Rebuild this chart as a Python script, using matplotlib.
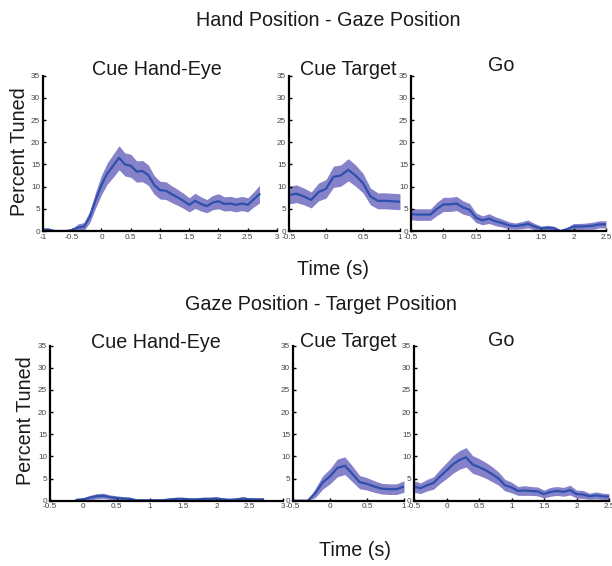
import numpy as np
import matplotlib
matplotlib.use("Agg")
import matplotlib.pyplot as plt

plt.rcParams['font.family'] = ['Liberation Sans', 'DejaVu Sans']

# ---------------- data ----------------
# Hand Position - Gaze Position
t_hpgp_cue_he = np.round(np.arange(-1.0, 2.71, 0.1), 2)
v_hpgp_cue_he = [0.3, 0.3, 0.0, 0.0, 0.0, 0.2, 0.8, 1.0, 3.2, 7.0, 10.4, 13.0, 14.7, 16.5, 15.0,
                 14.7, 13.4, 13.5, 12.6, 10.4, 9.2, 9.1, 8.3, 7.6, 6.8, 5.9, 6.8, 6.1, 5.6, 6.4,
                 6.7, 6.1, 6.2, 5.9, 6.2, 5.9, 7.1, 8.3]
e_hpgp_cue_he = [0.4, 0.4, 0.1, 0.1, 0.1, 0.4, 0.8, 0.9, 1.3, 1.8, 2.2, 2.4, 2.6, 2.7, 2.6,
                 2.6, 2.4, 2.4, 2.3, 2.1, 2.0, 2.0, 1.9, 1.8, 1.7, 1.6, 1.7, 1.6, 1.5, 1.6,
                 1.7, 1.6, 1.6, 1.6, 1.6, 1.6, 1.7, 2.0]

t_hpgp_cue_tg = np.round(np.arange(-0.5, 1.01, 0.1), 2)
v_hpgp_cue_tg = [8.1, 8.4, 7.8, 7.0, 8.8, 9.5, 12.2, 12.5, 13.8, 12.5, 10.8, 7.8, 6.8, 6.8, 6.7, 6.6]
e_hpgp_cue_tg = [2.0, 2.0, 1.9, 1.8, 2.0, 2.1, 2.4, 2.4, 2.5, 2.4, 2.2, 1.9, 1.8, 1.8, 1.8, 1.8]

t_hpgp_go = np.round(np.arange(-0.5, 2.51, 0.1), 2)
v_hpgp_go = [3.8, 3.7, 3.7, 3.7, 5.0, 6.0, 6.0, 6.2, 5.3, 4.8, 3.0, 2.4, 2.8, 2.2, 1.8, 1.3,
             1.1, 1.3, 1.6, 1.0, 0.6, 0.7, 0.6, 0.0, 0.4, 1.0, 1.0, 1.1, 1.2, 1.5, 1.5]
e_hpgp_go = [1.3, 1.3, 1.3, 1.3, 1.5, 1.6, 1.6, 1.6, 1.5, 1.4, 1.1, 1.0, 1.1, 1.0, 0.9, 0.8,
             0.7, 0.8, 0.9, 0.7, 0.5, 0.6, 0.5, 0.2, 0.4, 0.7, 0.7, 0.7, 0.8, 0.8, 0.8]

# Gaze Position - Target Position
t_gptp_cue_he = np.round(np.arange(-0.1, 2.71, 0.1), 2)
v_gptp_cue_he = [0.2, 0.3, 0.7, 1.0, 1.1, 0.8, 0.6, 0.5, 0.4, 0.1, 0.1, 0.1, 0.1, 0.1, 0.3,
                 0.4, 0.4, 0.3, 0.3, 0.4, 0.4, 0.5, 0.3, 0.2, 0.3, 0.5, 0.3, 0.3, 0.3]
e_gptp_cue_he = [0.3, 0.4, 0.5, 0.6, 0.6, 0.5, 0.5, 0.4, 0.4, 0.2, 0.2, 0.2, 0.2, 0.2, 0.3,
                 0.4, 0.4, 0.3, 0.3, 0.4, 0.4, 0.4, 0.3, 0.3, 0.3, 0.4, 0.3, 0.3, 0.3]

t_gptp_cue_tg = np.round(np.arange(-0.5, 1.01, 0.1), 2)
v_gptp_cue_tg = [0.0, 0.0, 0.0, 1.7, 4.1, 5.5, 7.4, 7.9, 6.1, 4.2, 3.8, 3.2, 2.7, 2.6, 2.6, 3.2]
e_gptp_cue_tg = [0.2, 0.2, 0.2, 1.0, 1.5, 1.7, 2.0, 2.0, 1.8, 1.5, 1.4, 1.3, 1.2, 1.2, 1.2, 1.3]

t_gptp_go = np.round(np.arange(-0.5, 2.51, 0.1), 2)
v_gptp_go = [3.2, 2.8, 3.5, 4.0, 5.5, 6.8, 8.2, 9.2, 9.8, 8.2, 7.6, 6.9, 6.0, 5.0, 3.5, 3.0,
             2.2, 2.3, 2.2, 2.1, 1.5, 2.0, 2.2, 2.0, 2.4, 1.5, 1.4, 1.0, 1.2, 1.0, 0.9]
e_gptp_go = [1.3, 1.2, 1.3, 1.4, 1.6, 1.8, 2.0, 2.1, 2.2, 2.0, 1.9, 1.8, 1.7, 1.5, 1.3, 1.2,
             1.0, 1.1, 1.0, 1.0, 0.9, 1.0, 1.0, 1.0, 1.1, 0.9, 0.9, 0.7, 0.8, 0.7, 0.7]

panel_titles = ["Cue Hand-Eye", "Cue Target", "Go"]
row_titles = ["Hand Position - Gaze Position", "Gaze Position - Target Position"]
yticks = [0, 5, 10, 15, 20, 25, 30, 35]
xlims_top = [(-1, 3), (-0.5, 1), (-0.5, 2.5)]
xlims_bot = [(-0.5, 3), (-0.5, 1), (-0.5, 2.5)]
xticks_top = [[-1, -0.5, 0, 0.5, 1, 1.5, 2, 2.5, 3], [-0.5, 0, 0.5, 1],
              [-0.5, 0, 0.5, 1, 1.5, 2, 2.5]]
xticks_bot = [[-0.5, 0, 0.5, 1, 1.5, 2, 2.5, 3], [-0.5, 0, 0.5, 1],
              [-0.5, 0, 0.5, 1, 1.5, 2, 2.5]]

# ---------------- figure ----------------
W, H = 612, 566
fig = plt.figure(figsize=(W / 100, H / 100), dpi=100)

def px_rect(x0, x1, ytop, ybot):
    return [x0 / W, 1 - ybot / H, (x1 - x0) / W, (ybot - ytop) / H]

top_rects = [px_rect(43, 277, 75.7, 231), px_rect(289, 400, 75.7, 231), px_rect(411, 606, 75.7, 231)]
bot_rects = [px_rect(50, 283, 345.7, 500.7), px_rect(293, 404, 345.7, 500.7), px_rect(414, 609, 345.7, 500.7)]

line_c = '#2d50ac'
band_c = '#8682c9'

def fmt(v):
    return '%g' % v

def draw(ax, t, v, e, xlim, xt):
    v = np.asarray(v, float)
    e = np.asarray(e, float)
    ax.fill_between(t, np.clip(v - e, 0, None), v + e, color=band_c, lw=0, zorder=1)
    ax.plot(t, v, color=line_c, lw=1.6, zorder=2)
    ax.set_xlim(*xlim)
    ax.set_ylim(0, 35)
    ax.set_yticks(yticks)
    ax.set_yticklabels([fmt(y) for y in yticks])
    ax.set_xticks(xt)
    ax.set_xticklabels([fmt(x) for x in xt])
    for s in ['top', 'right']:
        ax.spines[s].set_visible(False)
    for s in ['left', 'bottom']:
        ax.spines[s].set_linewidth(1.6)
        ax.spines[s].set_color('black')
        ax.spines[s].set_zorder(3)
    ax.tick_params(direction='in', length=2.5, width=1.0, labelsize=5.9,
                   labelcolor='#444444', pad=2, color='black')
    ax.patch.set_alpha(0)

top_data = [(t_hpgp_cue_he, v_hpgp_cue_he, e_hpgp_cue_he),
            (t_hpgp_cue_tg, v_hpgp_cue_tg, e_hpgp_cue_tg),
            (t_hpgp_go, v_hpgp_go, e_hpgp_go)]
bot_data = [(t_gptp_cue_he, v_gptp_cue_he, e_gptp_cue_he),
            (t_gptp_cue_tg, v_gptp_cue_tg, e_gptp_cue_tg),
            (t_gptp_go, v_gptp_go, e_gptp_go)]

for rect, (t, v, e), xl, xt in zip(top_rects, top_data, xlims_top, xticks_top):
    ax = fig.add_axes(rect)
    draw(ax, t, v, e, xl, xt)
for rect, (t, v, e), xl, xt in zip(bot_rects, bot_data, xlims_bot, xticks_bot):
    ax = fig.add_axes(rect)
    draw(ax, t, v, e, xl, xt)

def ftext(x, y, s, **kw):
    fig.text(x / W, 1 - y / H, s, color='#1a1a1a', **kw)

big = 14.2
# row titles
ftext(328, 26, row_titles[0], ha='center', va='baseline', fontsize=big)
ftext(321, 310, row_titles[1], ha='center', va='baseline', fontsize=big)
# panel titles
for (xc, yb), s in zip([(157, 75), (348, 75), (501, 71)], panel_titles):
    ftext(xc, yb, s, ha='center', va='baseline', fontsize=big)
for (xc, yb), s in zip([(156, 348), (348, 347), (501, 346)], panel_titles):
    ftext(xc, yb, s, ha='center', va='baseline', fontsize=big)
# x labels
ftext(333, 275, "Time (s)", ha='center', va='baseline', fontsize=big)
ftext(355, 556, "Time (s)", ha='center', va='baseline', fontsize=big)
# y labels
ftext(20, 152, "Percent Tuned", ha='center', va='center', rotation=90, fontsize=big)
ftext(26, 421, "Percent Tuned", ha='center', va='center', rotation=90, fontsize=big)

fig.savefig("out.png", dpi=100)
